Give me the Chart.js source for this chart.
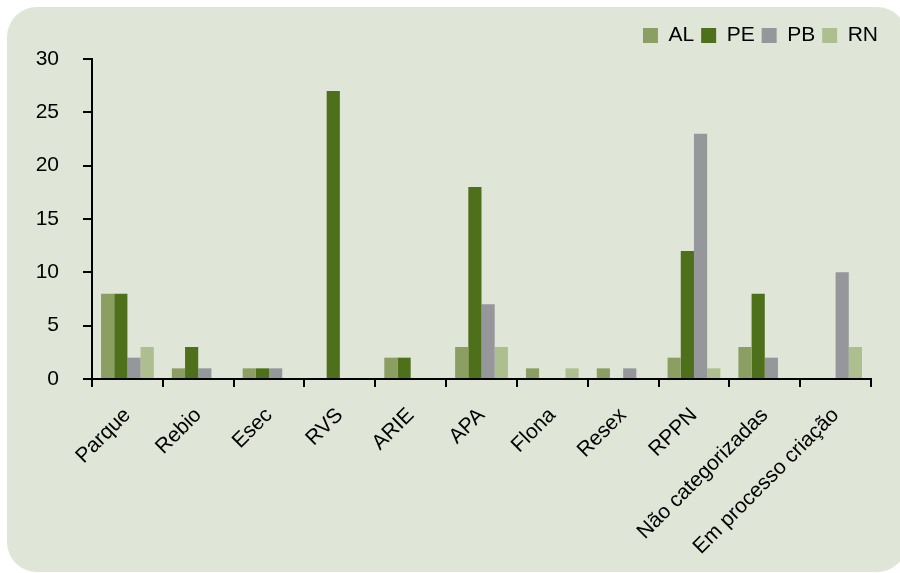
<!DOCTYPE html>
<html>
<head>
<meta charset="utf-8">
<script src="https://cdn.jsdelivr.net/npm/chart.js@4/dist/chart.umd.min.js"></script>
<style>
  html, body { margin: 0; padding: 0; background: #ffffff; }
  #wrap { position: relative; width: 900px; height: 573px; overflow: hidden; }
  #panel {
    position: absolute; left: 7px; top: 7px; width: 900px; height: 565px;
    background: #e0e6d7; border-radius: 30px;
  }
  #chart { position: absolute; left: 0; top: 0; }
</style>
</head>
<body>
<div id="wrap">
  <div id="panel"></div>
  <canvas id="chart" width="900" height="573"></canvas>
</div>
<script>
// Unidades de conservação por categoria e estado
const categories = ['Parque', 'Rebio', 'Esec', 'RVS', 'ARIE', 'APA', 'Flona', 'Resex', 'RPPN', 'Não categorizadas', 'Em processo criação'];
const AL = [8, 1, 1, 0, 2, 3, 1, 1, 2, 3, 0];
const PE = [8, 3, 1, 27, 2, 18, 0, 0, 12, 8, 0];
const PB = [2, 1, 1, 0, 0, 7, 0, 1, 23, 2, 10];
const RN = [3, 0, 0, 0, 0, 3, 1, 0, 1, 0, 3];
const yTicks = [0, 5, 10, 15, 20, 25, 30];

const FONT = "'Liberation Sans Narrow', 'Arial Narrow', 'Liberation Sans', Arial, sans-serif";

// keeps the plot area top fixed below the legend and nudges the legend row right
const legendPlacement = {
  id: 'legendPlacement',
  beforeInit(chart) {
    const fit = chart.legend.fit;
    chart.legend.fit = function () {
      fit.call(this);
      this.height = 41;
    };
  },
  afterLayout(chart) {
    chart.legend.left += 14;
    chart.legend.right += 14;
  }
};

new Chart(document.getElementById('chart'), {
  type: 'bar',
  data: {
    labels: categories,
    datasets: [
      { label: 'AL', data: AL, backgroundColor: '#8b9f63' },
      { label: 'PE', data: PE, backgroundColor: '#4f701b' },
      { label: 'PB', data: PB, backgroundColor: '#96979b' },
      { label: 'RN', data: RN, backgroundColor: '#adbe8f' }
    ]
  },
  options: {
    responsive: false,
    animation: false,
    devicePixelRatio: 1,
    layout: { padding: { left: 0, right: 29, top: 18, bottom: 0 } },
    datasets: { bar: { categoryPercentage: 0.745, barPercentage: 1, borderWidth: 0 } },
    plugins: {
      tooltip: { enabled: false },
      legend: {
        position: 'top',
        align: 'end',
        labels: {
          boxWidth: 15,
          boxHeight: 15,
          padding: 7,
          color: '#000000',
          font: { family: FONT, size: 21 }
        }
      }
    },
    scales: {
      x: {
        afterFit(s) { s.height = 194; },
        grid: {
          offset: true,
          drawOnChartArea: false,
          drawTicks: true,
          tickLength: 8,
          color: '#000000',
          lineWidth: 2
        },
        border: { display: true, color: '#000000', width: 2 },
        ticks: {
          color: '#000000',
          font: { family: FONT, size: 21 },
          minRotation: 45,
          maxRotation: 45,
          autoSkip: false,
          padding: 16
        }
      },
      y: {
        min: 0,
        max: 30,
        afterFit(s) { s.width = 92; },
        afterBuildTicks(s) { s.ticks = yTicks.map(v => ({ value: v })); },
        grid: {
          drawOnChartArea: false,
          drawTicks: true,
          tickLength: 9,
          color: '#000000',
          lineWidth: 2
        },
        border: { display: true, color: '#000000', width: 2 },
        ticks: {
          color: '#000000',
          font: { family: FONT, size: 21 },
          padding: 24
        }
      }
    }
  },
  plugins: [legendPlacement]
});
</script>
</body>
</html>
